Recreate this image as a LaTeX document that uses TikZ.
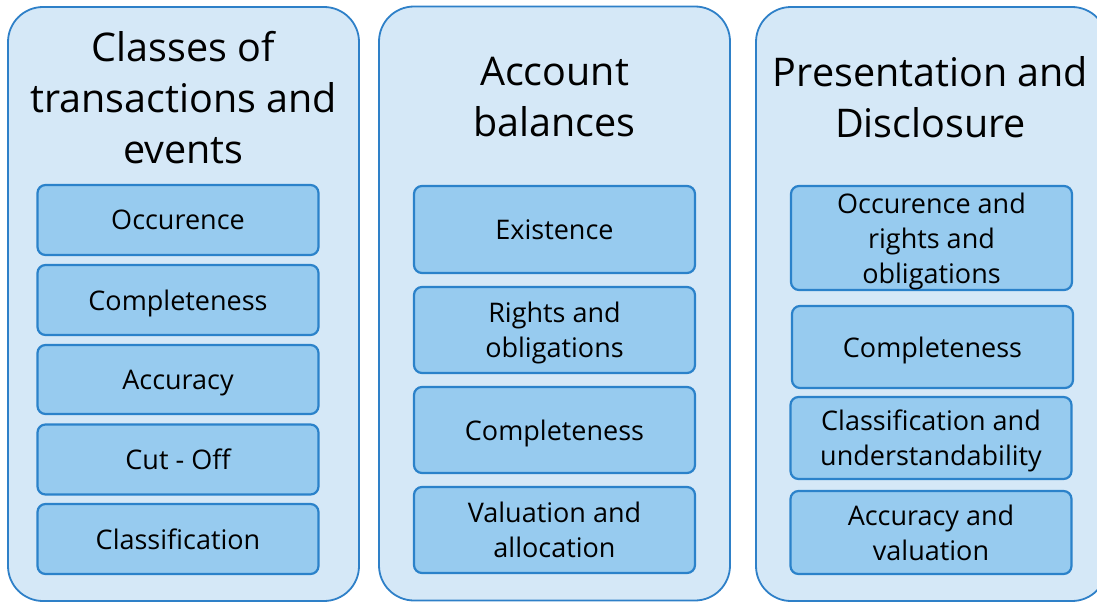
\documentclass[tikz,border=0pt]{standalone}
\usepackage{fontspec}
\setmainfont{Open Sans}
\definecolor{outerfill}{RGB}{213,232,247}
\definecolor{outerline}{RGB}{46,128,200}
\definecolor{innerfill}{RGB}{151,203,239}
\definecolor{innerline}{RGB}{43,130,202}
\tikzset{
  colbox/.style={draw=outerline, fill=outerfill, line width=1.8pt, rounded corners=35pt,
    minimum width=351pt, minimum height=594pt, inner sep=0pt},
  coltitle/.style={align=center, font=\fontsize{39.5}{51}\selectfont, inner sep=0pt, text=black},
  itembox/.style={draw=innerline, fill=innerfill, line width=2.2pt, rounded corners=8pt,
    minimum width=281pt, inner sep=0pt, align=center, text depth=0pt,
    font=\fontsize{27}{35}\selectfont, text=black}
}
\begin{document}
\begin{tikzpicture}[x=1pt,y=-1pt]
\useasboundingbox (0,0) rectangle (1097,602);
\clip (0,0) rectangle (1097,602);
% columns
\node[colbox] (c1) at (183.5,304) {};
\node[colbox] (c2) at (554.5,303.5) {};
\node[colbox] (c3) at (931.5,304) {};
% titles
\node[coltitle] (t1) at (183.5,97.5) {Classes of\\transactions and\\events};
\node[coltitle] (t2) at (554.5,97.5) {Account\\balances};
\node[coltitle] (t3) at (930.5,97.5) {Presentation and\\Disclosure};
% column 1
\node[itembox, minimum height=70pt] (a1) at (178,220) {Occurence};
\node[itembox, minimum height=70pt] (a2) at (178,300) {Completeness};
\node[itembox, minimum height=69pt] (a3) at (178,379.5) {Accuracy};
\node[itembox, minimum height=70pt] (a4) at (178,459.5) {Cut - Off};
\node[itembox, minimum height=70pt] (a5) at (178,539) {Classification};
% column 2
\node[itembox, minimum height=87pt] (b1) at (554.5,229.5) {Existence};
\node[itembox, minimum height=86pt] (b2) at (554.5,330) {Rights and\\obligations};
\node[itembox, minimum height=86pt] (b3) at (554.5,430) {Completeness};
\node[itembox, minimum height=86pt] (b4) at (554.5,530) {Valuation and\\allocation};
% column 3
\node[itembox, minimum height=104pt] (d1) at (931.5,238) {Occurence and\\rights and\\obligations};
\node[itembox, minimum height=82pt] (d2) at (932.5,347) {Completeness};
\node[itembox, minimum height=82pt] (d3) at (931,438) {Classification and\\understandability};
\node[itembox, minimum height=83pt] (d4) at (931,532.5) {Accuracy and\\valuation};
\end{tikzpicture}
\end{document}
